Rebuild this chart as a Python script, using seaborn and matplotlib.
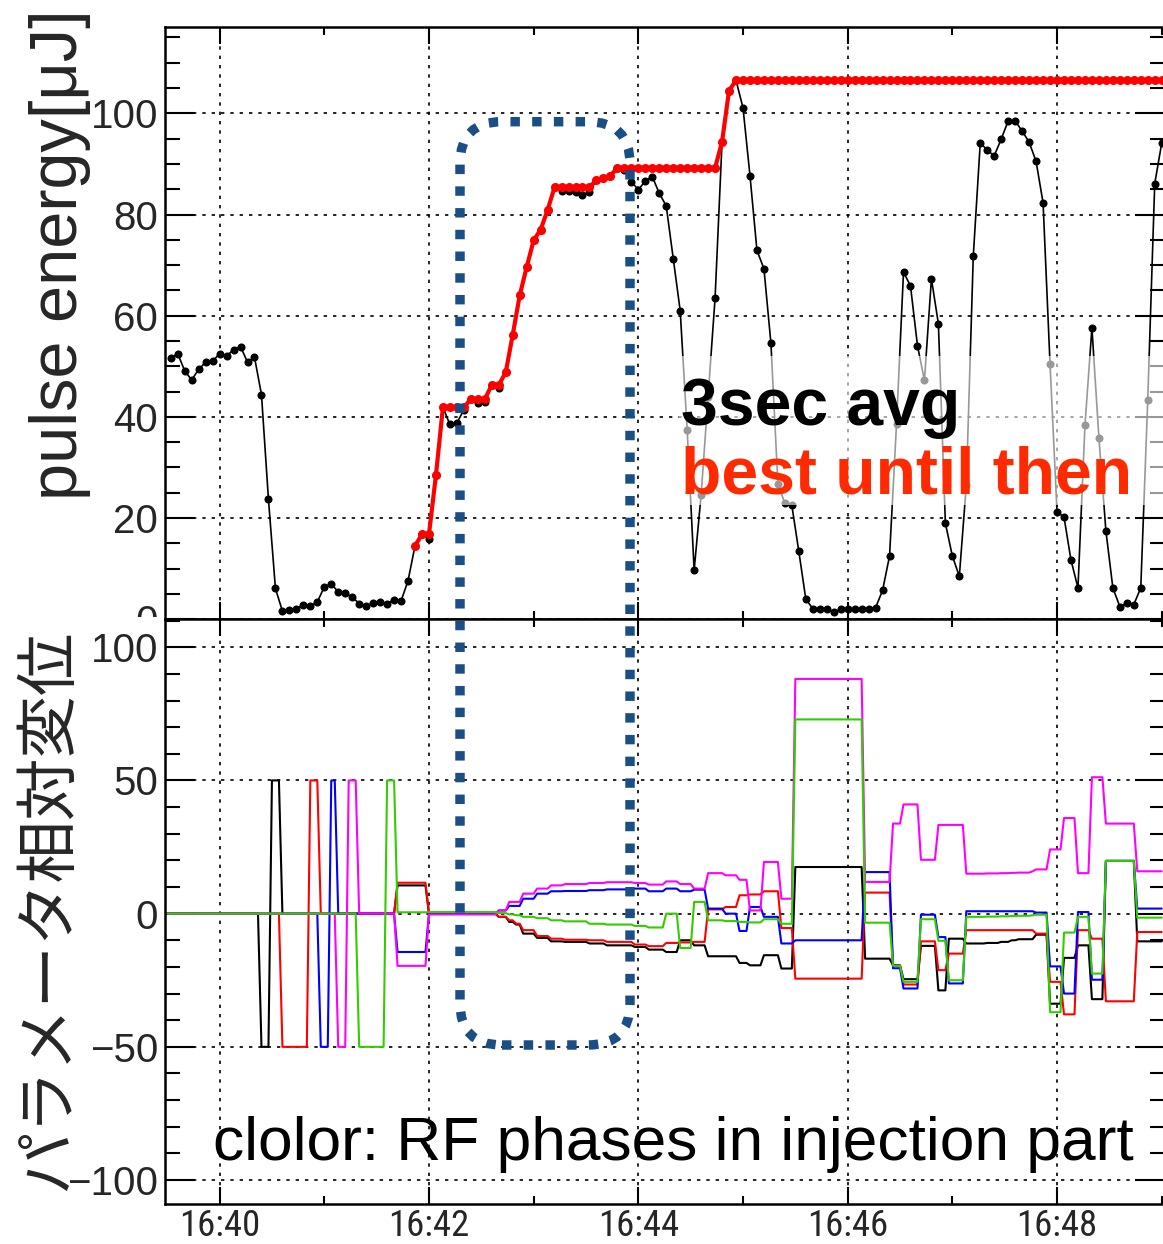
import numpy as np
import pandas as pd
import matplotlib
matplotlib.use("Agg")
import matplotlib.pyplot as plt
import matplotlib.dates as mdates
import matplotlib.ticker as mticker
from matplotlib import font_manager
from matplotlib.patches import FancyBboxPatch, Rectangle
from matplotlib.transforms import Bbox, TransformedBbox
import seaborn as sns

# ---------------- data ----------------
t_origin = pd.Timestamp("2015-06-01 16:40:00")

# 3 s averaged pulse energy [uJ], one value every 4 s starting at 16:39:32
energy_start_s = -28
energy_step_s = 4
pulse_energy = [
    51.6, 52.5, 49.1, 47.3, 49.4, 50.8, 51.0, 52.5, 52.0, 53.3,
    53.9, 50.8, 51.8, 44.4, 23.7, 6.1, 1.6, 1.8, 2.1, 2.8,
    2.6, 3.4, 6.4, 7.0, 5.4, 5.1, 4.4, 3.1, 2.6, 3.2,
    3.4, 3.0, 3.9, 3.6, 7.6, 14.5, 16.8, 15.8, 28.5, 41.9,
    38.5, 38.8, 41.4, 43.5, 42.8, 42.9, 46.3, 45.8, 48.8, 56.2,
    64.0, 69.6, 74.9, 77.0, 80.9, 85.4, 84.7, 84.7, 84.5, 83.8,
    84.5, 86.8, 87.2, 87.7, 89.2, 88.8, 86.5, 84.9, 86.6, 87.5,
    84.2, 81.7, 71.3, 61.0, 37.5, 9.7, 24.6, 44.0, 63.5, 94.4,
    104.5, 106.5, 101.1, 87.7, 72.9, 69.3, 54.6, 26.8, 22.9, 22.5,
    13.4, 4.0, 2.1, 2.1, 2.0, 1.4, 2.0, 2.1, 2.0, 2.1,
    2.1, 2.3, 5.7, 12.5, 38.6, 68.6, 65.9, 54.1, 47.2, 67.3,
    58.4, 19.0, 12.5, 8.5, 26.5, 71.8, 94.2, 92.7, 91.6, 94.9,
    98.5, 98.5, 96.5, 94.3, 90.5, 82.3, 50.4, 21.2, 20.2, 11.7,
    6.2, 38.3, 57.6, 35.9, 17.5, 6.2, 2.5, 3.2, 2.9, 6.2,
    43.4, 86.1, 94.1,
]
scan_start_s = 112  # optimiser switched on at 16:41:52

# Relative displacement of the injector RF phases: new set point after each step
param_change_s = [
    -30, 24, 30, 36, 52, 58, 64, 68, 74, 80,
    96, 102, 120, 160, 166, 170, 174, 182, 190, 198,
    212, 222, 238, 246, 256, 264, 272, 280, 290, 298,
    304, 312, 322, 330, 370, 386, 392, 402, 412, 418,
    428, 440, 448, 454, 458, 466, 468, 476, 484, 492,
    500, 508, 526,
]
phase_black = [
    0, -50, 50, 0, 0, 0, 0, 0, 0, 0,
    0, 10.6, 0, -1.2, -3.1, -4.1, -7.5, -9.1, -10.4, -10.6,
    -11.2, -11.9, -12.5, -13.5, -14.4, -10.0, -11.9, -16.0, -16.0, -18.5,
    -19.4, -15.6, -20.6, 17.5, -16.9, -19.4, -24.6, -12.1, -28.8, -9.4,
    -11.2, -11.0, -10.6, -10.0, -9.6, -9.6, -7.9, -33.8, -16.6, -11.9,
    -32.1, 19.8, -10.4,
]
phase_red = [
    0, 0, 0, -50, 50, 0, 0, 0, 0, 0,
    0, 11.6, 0.4, -1.2, -2.5, -3.8, -6.2, -8.4, -9.4, -9.8,
    -10.0, -10.6, -11.6, -12.2, -11.0, -10.8, -10.6, 1.6, 2.5, 6.9,
    7.2, 8.4, -5.4, -24.4, 7.9, -19.6, -26.6, -10.4, -21.2, -15.0,
    -6.2, -6.2, -6.2, -6.2, -6.2, -6.2, -7.5, -25.6, -37.8, -6.2,
    -9.4, -32.9, -6.9,
]
phase_blue = [
    0, 0, 0, 0, 0, -50, 50, 0, 0, 0,
    0, -14.4, 0, 1.2, 2.9, 2.9, 5.6, 7.5, 8.4, 8.5,
    8.8, 9.1, 9.4, 8.4, 9.4, 8.4, 9.0, 1.9, 0.0, -6.5,
    2.5, -1.2, -11.2, -10.0, 15.6, -20.5, -28.1, -0.4, -8.8, -26.2,
    0.9, 0.9, 0.9, 0.9, 0.9, 0.9, 0.4, -19.8, -30.0, 0.6,
    -24.8, 19.8, 1.9,
]
phase_magenta = [
    0, 0, 0, 0, 0, 0, 0, -50, 50, 0,
    0, -19.6, -0.3, 1.2, 4.4, 4.4, 7.5, 9.4, 10.6, 11.1,
    11.5, 11.8, 11.5, 10.9, 12.1, 11.1, 9.4, 15.2, 14.4, 12.7,
    1.2, 19.4, 5.6, 88.1, 11.9, 33.8, 41.0, 20.2, 33.3, 33.3,
    15.0, 15.1, 15.2, 15.3, 15.4, 15.9, 16.6, 24.1, 35.9, 15.2,
    51.2, 33.8, 15.9,
]
phase_green = [
    0, 0, 0, 0, 0, 0, 0, 0, 0, -50,
    50, 0.5, 0.6, 0.2, -0.3, -0.6, -1.2, -1.7, -2.5, -2.9,
    -3.8, -4.1, -4.6, -5.2, 0.0, -12.9, 4.4, -2.5, -2.8, -3.1,
    -3.3, -2.1, -3.8, 72.9, -3.4, -19.6, -25.6, -2.1, -10.2, -25.0,
    -1.2, -1.1, -1.0, -0.9, -0.8, -0.6, -0.4, -37.0, -7.1, -1.2,
    -22.5, 19.8, -1.5,
]
param_step_s = 2          # set points are logged every 2 s
param_span_s = (-30, 540)

x_limits_s = (-31.3, 541.6)
energy_yticks = [0, 20, 40, 60, 80, 100]
phase_yticks = [-100, -50, 0, 50, 100]

# ---------------- style ----------------
sns.set_style("white")
plt.rcParams["font.family"] = ["Liberation Sans", "DejaVu Sans"]
plt.rcParams["axes.unicode_minus"] = True

available = {f.name for f in font_manager.fontManager.ttflist}
narrow_font = next((f for f in ["Liberation Sans Narrow", "DejaVu Sans Condensed",
                                "Roboto Condensed"] if f in available), "Liberation Sans")

fig = plt.figure(figsize=(11.63, 12.44), dpi=100)
ax1 = fig.add_axes([0.14187, 0.50221, 0.85942, 0.47584])
ax2 = fig.add_axes([0.14187, 0.031913, 0.85942, 0.47030])

to_time = lambda s: t_origin + pd.to_timedelta(np.asarray(s, dtype=float), unit="s")

# ---------------- top: pulse energy ----------------
energy_s = energy_start_s + energy_step_s * np.arange(len(pulse_energy))
energy_df = pd.DataFrame({"time": to_time(energy_s), "energy": pulse_energy})
scan_df = energy_df[energy_s >= scan_start_s].copy()
scan_df["best"] = scan_df["energy"].cummax()

sns.lineplot(data=energy_df, x="time", y="energy", ax=ax1, color="black",
             linewidth=1.2, marker="o", markersize=5.8, markeredgewidth=0,
             estimator=None, sort=False, zorder=2)
sns.lineplot(data=scan_df, x="time", y="best", ax=ax1, color="#ff0000",
             linewidth=3.0, marker="o", markersize=6.5, markeredgewidth=0,
             estimator=None, sort=False, zorder=3)

# ---------------- bottom: RF phase displacement ----------------
grid_s = np.arange(param_span_s[0], param_span_s[1] + 1, param_step_s)
step_idx = np.searchsorted(param_change_s, grid_s, side="right") - 1
phase_series = [(phase_black, "black"), (phase_red, "#ff0000"), (phase_blue, "#0000ff"),
                (phase_magenta, "#ff00ff"), (phase_green, "#33cc00")]
for values, colour in phase_series:
    sns.lineplot(x=to_time(grid_s), y=np.asarray(values, dtype=float)[step_idx], ax=ax2,
                 color=colour, linewidth=1.5, estimator=None, sort=False, zorder=2)

# ---------------- axes ----------------
dotted = (0, (2.0, 3.6))
for ax in (ax1, ax2):
    ax.set_xlim(t_origin + pd.Timedelta(seconds=x_limits_s[0]),
                t_origin + pd.Timedelta(seconds=x_limits_s[1]))
    ax.xaxis.set_major_locator(mdates.MinuteLocator(byminute=range(0, 60, 2)))
    ax.xaxis.set_minor_locator(mdates.MinuteLocator(byminute=range(1, 60, 2)))
    ax.xaxis.set_major_formatter(mdates.DateFormatter("%H:%M"))
    ax.set_xlabel("")
    ax.set_ylabel("")
    ax.grid(True, which="major", color="black", linestyle=dotted, linewidth=1.2)
    for sp in ax.spines.values():
        sp.set_linewidth(1.8)
        sp.set_color("black")
    ax.tick_params(which="both", direction="in", top=True, right=True,
                   bottom=True, left=True, width=1.5, color="black")
    ax.tick_params(axis="y", which="major", length=21.6, labelsize=29, pad=5)
    ax.tick_params(axis="y", which="minor", length=10.8)
    ax.tick_params(axis="x", which="major", length=12.2)
    ax.tick_params(axis="x", which="minor", length=5.8)

ax1.set_ylim(0, 117)
ax1.set_yticks(energy_yticks)
ax1.yaxis.set_minor_locator(mticker.MultipleLocator(5))
ax1.tick_params(axis="x", labelbottom=False)

ax2.set_ylim(-109.1, 110.5)
ax2.set_yticks(phase_yticks)
ax2.yaxis.set_minor_locator(mticker.MultipleLocator(10))
ax2.tick_params(axis="x", which="major", labelsize=26.5, pad=2.5,
                labelfontfamily=narrow_font)

# the lowest energy label is cut where the lower panel begins
cut = TransformedBbox(Bbox.from_extents(0, 0.5040, 1, 1), fig.transFigure)
for tick in ax1.yaxis.get_major_ticks():
    tick.label1.set_clip_box(cut)
    tick.label1.set_clip_on(True)

# legend text on a translucent white card
ax1.add_patch(Rectangle((0.514, 0.193), 0.486, 0.252, transform=ax1.transAxes,
                        facecolor="white", alpha=0.6, edgecolor="none", zorder=4))
ax1.text(0.5158, 0.328, "3sec avg", transform=ax1.transAxes, fontsize=47.5,
         fontweight="bold", color="black", va="baseline", ha="left", zorder=5)
ax1.text(0.5158, 0.213, "best until then", transform=ax1.transAxes, fontsize=47.5,
         fontweight="bold", color="#ff2a00", va="baseline", ha="left", zorder=5)

ax2.text(0.048, 0.0757, "clolor: RF phases in injection part", transform=ax2.transAxes,
         fontsize=44.8, color="black", va="baseline", ha="left", zorder=0.4)

# axis titles
fig.text(0.052, 0.795, "pulse energy[μJ]", rotation=90, ha="center", va="center",
         fontsize=48)
fig.text(0.041, 0.2685, "パラメータ相対変位", rotation=90, ha="center", va="center",
         fontsize=45, family=["Noto Sans CJK JP", "DejaVu Sans"])

# highlight of the first optimisation stage across both panels
fig.patches.append(FancyBboxPatch((4.60, 1.99), 1.70, 9.233,
                                  boxstyle="round,pad=0,rounding_size=0.42",
                                  transform=fig.dpi_scale_trans, fill=False,
                                  edgecolor="#1a4e85", linewidth=6.8,
                                  linestyle=(0, (1.0, 1.3)), capstyle="butt",
                                  zorder=10, figure=fig))

fig.savefig("out.png", dpi=100)
